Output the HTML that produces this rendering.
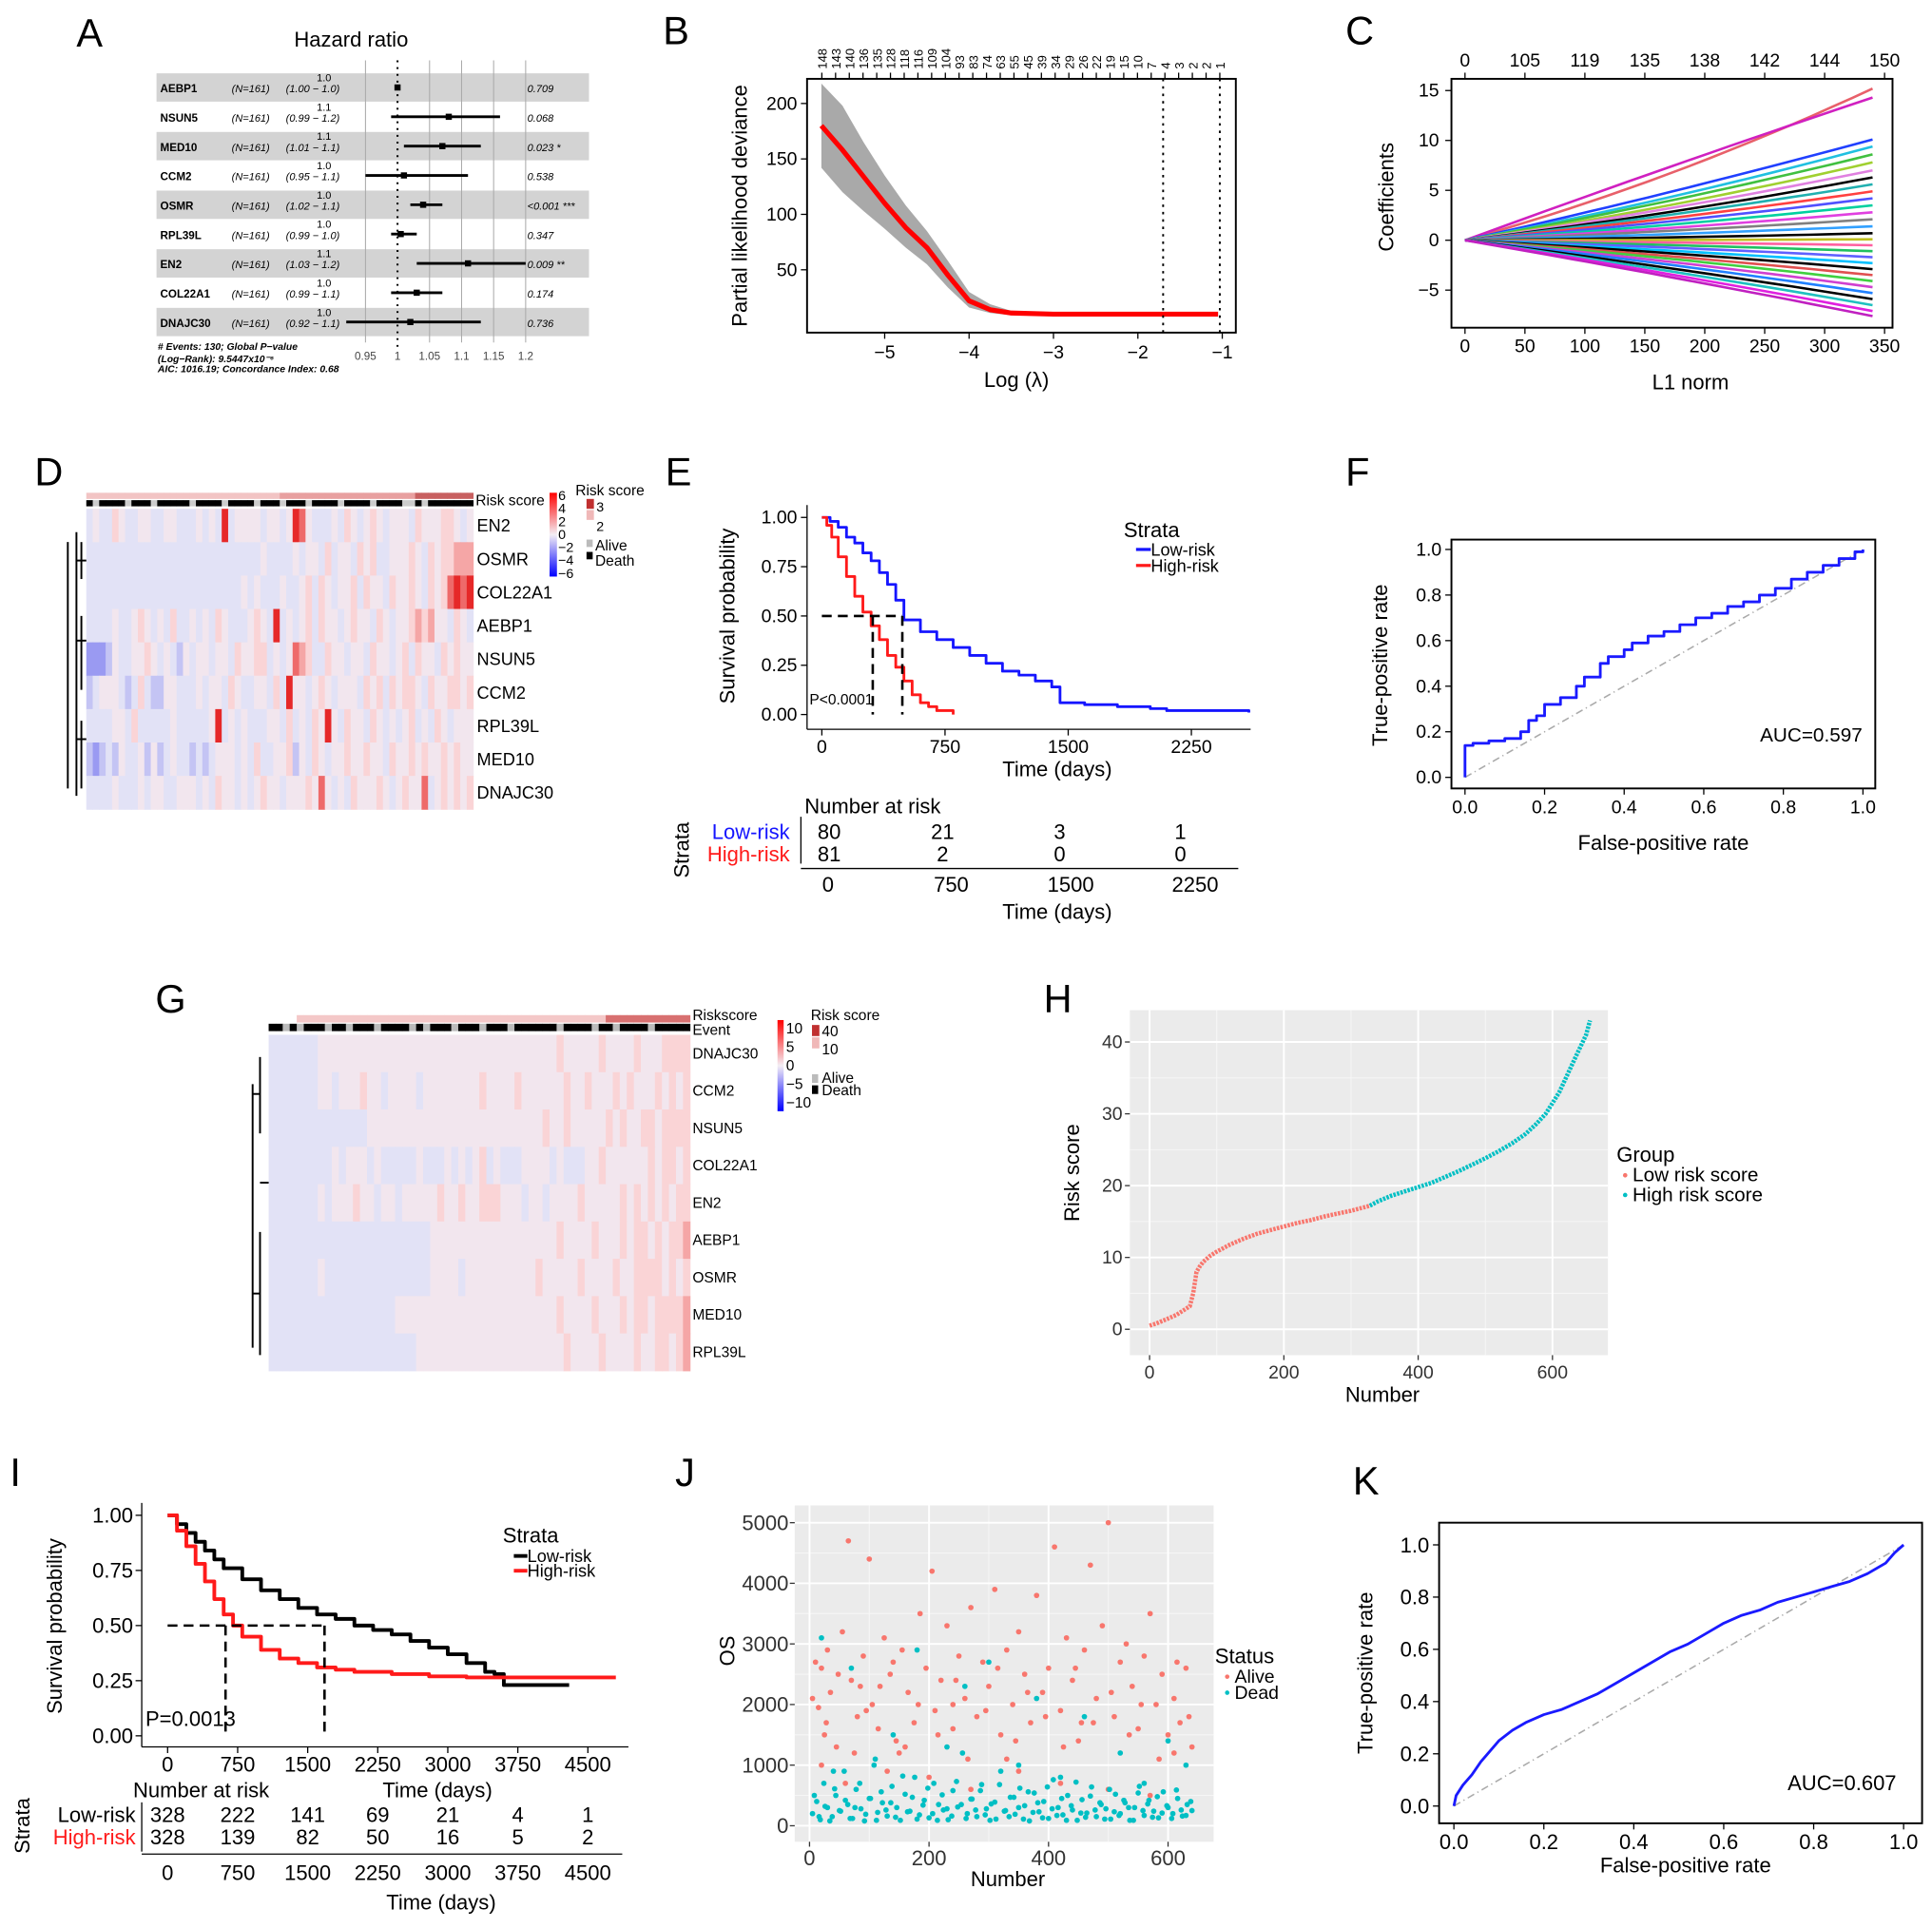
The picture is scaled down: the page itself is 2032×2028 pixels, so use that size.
<!DOCTYPE html>
<html><head><meta charset="utf-8"><style>
html,body{margin:0;padding:0;background:#fff}
svg{display:block;font-family:"Liberation Sans",Arial,sans-serif}
</style></head><body>
<svg id="fig" xmlns="http://www.w3.org/2000/svg" width="2032" height="2028" viewBox="0 0 1568 1565">
<rect x="0" y="0" width="1568" height="1565" fill="#fff"/>
<g font-size="32">
<text x="62" y="38">A</text>
<text x="538" y="36">B</text>
<text x="1092" y="36">C</text>
<text x="28" y="394">D</text>
<text x="540" y="394">E</text>
<text x="1092" y="394">F</text>
<text x="126" y="822">G</text>
<text x="847" y="822">H</text>
<text x="8" y="1206">I</text>
<text x="548" y="1206">J</text>
<text x="1098" y="1213">K</text>
</g>
<g id="layer"></g>
</svg>
<script>
const NS='http://www.w3.org/2000/svg';
const root=document.getElementById('layer');
function mk(tag,a,name,parent){const e=document.createElementNS(NS,tag);for(const k in a)e.setAttribute(k,a[k]);


(parent||root).appendChild(e);return e;}
function tx(x,y,s,name,opt){opt=opt||{};const e=mk('text',Object.assign({x:x,y:y,'font-size':opt.fs||14,'text-anchor':opt.anchor||'start',fill:opt.fill||'#000'},opt.extra||{}),name);e.textContent=s;return e;}
function line(x1,y1,x2,y2,name,st,w,dash){return mk('line',Object.assign({x1,y1,x2,y2,stroke:st||'#000','stroke-width':w||1},dash?{'stroke-dasharray':dash}:{}),name);}
function poly(pts,name,st,w,dash){return mk('polyline',Object.assign({points:pts.map(p=>p[0].toFixed(1)+','+p[1].toFixed(1)).join(' '),fill:'none',stroke:st,'stroke-width':w||1.5,'stroke-linejoin':'round'},dash?{'stroke-dasharray':dash}:{}),name);}
function steps(xs,ys,sx,sy){const p=[];for(let i=0;i<xs.length;i++){if(i>0)p.push([sx(xs[i]),sy(ys[i-1])]);p.push([sx(xs[i]),sy(ys[i])]);}return p;}

/* ===== Panel A: forest plot ===== */
const fGenes=['AEBP1','NSUN5','MED10','CCM2','OSMR','RPL39L','EN2','COL22A1','DNAJC30'];
const fHR=[1.0,1.08,1.07,1.01,1.04,1.005,1.11,1.03,1.02];
const fLo=[1.0,0.99,1.01,0.95,1.02,0.99,1.03,0.99,0.92];
const fHi=[1.0,1.16,1.13,1.11,1.07,1.03,1.2,1.07,1.13];
const fHRlab=['1.0','1.1','1.1','1.0','1.0','1.0','1.1','1.0','1.0'];
const fCI=['(1.00 − 1.0)','(0.99 − 1.2)','(1.01 − 1.1)','(0.95 − 1.1)','(1.02 − 1.1)','(0.99 − 1.0)','(1.03 − 1.2)','(0.99 − 1.1)','(0.92 − 1.1)'];
const fP=['0.709','0.068','0.023 *','0.538','<0.001 ***','0.347','0.009 **','0.174','0.736'];
const fTicks=[0.95,1,1.05,1.1,1.15,1.2];
(function(){
 const ax=v=>322.6+(v-1)*520, ry=i=>71+i*23.8;
 tx(285,38,'Hazard ratio','forest-title',{fs:17,anchor:'middle'});
 fGenes.forEach((g,i)=>{if(i%2==0)mk('rect',{x:127,y:ry(i)-11.5,width:351,height:23,fill:'#d3d3d3'},'forest-row-band');});
 fTicks.forEach(t=>{if(t!==1)line(ax(t),49,ax(t),278,'forest-gridline','#aaa',0.8);
  tx(ax(t),292,String(t),'forest-tick-label',{fs:9,anchor:'middle',fill:'#444'});});
 line(ax(1),49,ax(1),282,'forest-null-line','#000',1.6,'1.5,4');
 fGenes.forEach((g,i)=>{const y=ry(i);
  tx(130,y+4,g,'forest-gene-label',{fs:9,extra:{'font-weight':'bold'}});
  tx(188,y+4,'(N=161)','forest-n-label',{fs:8.5,extra:{'font-style':'italic'}});
  tx(232,y+4,fCI[i],'forest-ci-label',{fs:8.5,extra:{'font-style':'italic'}});
  tx(257,y-5,fHRlab[i],'forest-hr-label',{fs:8.5});
  tx(428,y+4,fP[i],'forest-p-label',{fs:8.5,extra:{'font-style':'italic'}});
  line(ax(fLo[i]),y,ax(fHi[i]),y,'forest-ci-bar','#000',2.2);
  mk('rect',{x:ax(fHR[i])-2.5,y:y-2.5,width:5,height:5,fill:'#000'},'forest-hr-point');});
 tx(128,284,'# Events: 130; Global P−value','forest-footer',{fs:8,extra:{'font-weight':'bold','font-style':'italic'}});
 tx(128,294,'(Log−Rank): 9.5447x10⁻⁶','forest-footer',{fs:8,extra:{'font-weight':'bold','font-style':'italic'}});
 tx(128,302,'AIC: 1016.19; Concordance Index: 0.68','forest-footer',{fs:8,extra:{'font-weight':'bold','font-style':'italic'}});
})();

/* ===== Panel B: lasso CV ===== */
const bLam=[-5.75,-5.5,-5.25,-5.0,-4.75,-4.5,-4.25,-4.0,-3.75,-3.5,-3.0,-2.5,-2.0,-1.5,-1.05];
const bMean=[180,158,134,110,88,70,45,22,14,11,10,10,10,10,10];
const bUp=[218,198,165,135,108,85,58,30,19,13,11,11,11,11,11];
const bLo=[142,120,103,87,70,55,34,16,11,9,9,9,9,9,9];
const bTop=['148','143','140','136','135','128','118','116','109','104','93','83','74','63','55','45','39','34','29','26','22','19','15','10','7','4','3','2','2','1'];
const bXt=[-5,-4,-3,-2,-1], bYt=[50,100,150,200];
(function(){
 const sx=v=>718+(v+5)*68.5, sy=v=>264-v*0.9;
 const band=bLam.map((l,i)=>[sx(l),sy(bUp[i])]).concat(bLam.slice().reverse().map((l,j)=>[sx(l),sy(bLo[bLam.length-1-j])]));
 mk('polygon',{points:band.map(p=>p.join(',')).join(' '),fill:'#a9a9a9'},'deviance-error-band');
 poly(bLam.map((l,i)=>[sx(l),sy(bMean[i])]),'deviance-curve','#f00',4);
 line(944,64,944,270,'lambda-min-line','#000',1.5,'2,4');line(990,64,990,270,'lambda-1se-line','#000',1.5,'2,4');
 mk('rect',{x:655,y:64,width:348,height:206,fill:'none',stroke:'#000','stroke-width':1.5},'plot-frame-b');
 bXt.forEach(t=>{line(sx(t),270,sx(t),275,'x-tick');tx(sx(t),291,'−'+Math.abs(t),'x-tick-label',{fs:15,anchor:'middle'});});
 bYt.forEach(t=>{line(650,sy(t),655,sy(t),'y-tick');tx(647,sy(t)+5,String(t),'y-tick-label',{fs:15,anchor:'end'});});
 bTop.forEach((t,i)=>{const x=667+i*(323/(bTop.length-1));line(x,59,x,64,'top-tick');
  tx(x+4,56,t,'top-tick-label',{fs:10,extra:{transform:`rotate(-90 ${x+4} 56)`}});});
 tx(825,314,'Log (λ)','x-axis-title-b',{fs:17,anchor:'middle'});
 tx(606,167,'Partial likelihood deviance','y-axis-title-b',{fs:17,anchor:'middle',extra:{transform:'rotate(-90 606 167)'}});
})();

/* ===== Panel C: coefficient paths ===== */
const cEnd=[15.2,14.3,10.1,9.4,8.6,7.8,7.0,6.3,5.6,4.9,4.2,3.5,2.8,2.1,1.4,0.7,0.1,-0.5,-1.1,-1.7,-2.3,-2.9,-3.5,-4.1,-4.7,-5.3,-5.9,-6.5,-7.1,-7.6];
const cMid=[5.5,7.5,4.5,3.8,3.5,3.0,2.8,2.4,2.2,1.9,1.6,1.3,1.0,0.8,0.5,0.2,0.0,-0.2,-0.4,-0.6,-0.9,-1.1,-1.4,-1.6,-1.9,-2.2,-2.6,-2.9,-3.2,-3.5];
const cColors=['#e8606a','#d020c0','#2040ff','#20c0e0','#40c040','#a0d030','#e080e0','#000','#20b0b0','#ff4040','#5050ff','#00d0a0','#e040e0','#808080','#30a0ff','#000','#c0c020','#ff60a0','#20c060','#6060ff','#00c0ff','#000','#e05050','#40d040','#d040d0','#2080ff','#000','#20c0c0','#e020e0','#c020c0'];
const cXt=[0,50,100,150,200,250,300,350], cYt=[15,10,5,0,-5];
const cTop=['0','105','119','135','138','142','144','150'];
(function(){
 const sx=v=>1189+v*0.973, sy=v=>195-v*8.1;
 cEnd.forEach((e,i)=>{const m=cMid[i];const p=[];
  for(let k=0;k<=20;k++){const t=k/20;const v=2*(1-t)*t*m*0.9+t*t*e+2*(1-t)*t*(e/2)*0.1;p.push([sx(t*340),sy(v)]);}
  poly(p,'coefficient-path',cColors[i],2);});
 mk('rect',{x:1178,y:64,width:358,height:202,fill:'none',stroke:'#000','stroke-width':1.5},'plot-frame-c');
 cXt.forEach((t,i)=>{line(sx(t),266,sx(t),271,'x-tick');tx(sx(t),286,String(t),'x-tick-label',{fs:15,anchor:'middle'});
  line(sx(t),59,sx(t),64,'top-tick');tx(sx(t),54,cTop[i],'top-tick-label',{fs:15,anchor:'middle'});});
 cYt.forEach(t=>{line(1173,sy(t),1178,sy(t),'y-tick');tx(1168,sy(t)+5,t<0?'−'+(-t):String(t),'y-tick-label',{fs:15,anchor:'end'});});
 tx(1372,316,'L1 norm','x-axis-title-c',{fs:17,anchor:'middle'});
 tx(1131,160,'Coefficients','y-axis-title-c',{fs:17,anchor:'middle',extra:{transform:'rotate(-90 1131 160)'}});
})();

/* ===== heatmap palette ===== */
const hmPal=['#5a5aee','#9a9af2','#c4c4f4','#e2e2f6','#f2e6ee','#fad4d6','#f5a6a6','#ee6a6a','#e62828'];

/* ===== Panel D heatmap ===== */
const dGenes=['EN2','OSMR','COL22A1','AEBP1','NSUN5','CCM2','RPL39L','MED10','DNAJC30'];
const dRows=[
'343354334433443334343834444344348743334354345434443544455434',
'333333333333333333333333333433334344353443545334445435455666',
'333333333333333333333333434333433453543445354435445435457878',
'333343345434353343435433345438343453544345443543445656443543',
'111243344543432434434435445534347653354434435443453544354544',
'234443235322443334344354334435384434543444354535455435445545',
'333344353333343333348343433344353435484354435434345343543444',
'212324334242343323234443435334452435434454454435445454454544',
'333343334344334443435443434544344454743435444543454473454545'];
const dEvent='101111011101111101111011110111011101111011110111100101111111';
(function(){
 const x0=70,x1=384,y0=413,rh=27.1,n=dRows[0].length,cw=(x1-x0)/n;
 for(let c=0;c<n;c++){
  mk('rect',{x:x0+c*cw,y:400,width:cw+0.3,height:5,fill:c<n/2?'#f2c4c4':(c<n*0.85?'#e8a0a0':'#c86060')},'risk-score-annotation');
  mk('rect',{x:x0+c*cw,y:406,width:cw+0.3,height:5,fill:dEvent[c]=='1'?'#000':'#ccc'},'event-annotation');}
 dRows.forEach((r,ri)=>{for(let c=0;c<n;c++)mk('rect',{x:x0+c*cw,y:y0+ri*rh,width:cw+0.4,height:rh+0.4,fill:hmPal[+r[c]]},'heatmap-d-cell');
  tx(387,y0+ri*rh+rh/2+5,dGenes[ri],'heatmap-d-gene-label',{fs:14});});
 tx(386,410,'Risk score','risk-score-annotation-label',{fs:12});
 const den=[[62,432,62,646],[55,440,55,640],[66,440,66,470],[62,455,70,455],[62,520,70,520],[66,500,66,560],[62,600,70,600],[66,585,66,640]];
 den.forEach(d=>line(d[0],d[1],d[2],d[3],'dendrogram-d','#000',1.5));
 const lg=mk('linearGradient',{id:'gD',x1:0,y1:0,x2:0,y2:1},'legend-gradient');
 [['0','#ff0000'],['0.5','#f4eef4'],['1','#0000ff']].forEach(s=>mk('stop',{offset:s[0],'stop-color':s[1]},'gradient-stop',lg));
 mk('rect',{x:446,y:400,width:6,height:68,fill:'url(#gD)'},'heatmap-d-color-legend');
 ['6','4','2','0','−2','−4','−6'].forEach((t,i)=>tx(453,406+i*10.5,t,'color-legend-label',{fs:11}));
 tx(467,402,'Risk score','risk-legend-title',{fs:12});
 mk('rect',{x:476,y:405,width:6,height:8,fill:'#c03030'},'risk-legend-swatch');mk('rect',{x:476,y:414,width:6,height:8,fill:'#f0b8b8'},'risk-legend-swatch');
 tx(484,415,'3','risk-legend-label',{fs:11});tx(484,431,'2','risk-legend-label',{fs:11});
 mk('rect',{x:476,y:438,width:5,height:6,fill:'#bbb'},'alive-swatch');mk('rect',{x:476,y:448,width:5,height:6,fill:'#000'},'death-swatch');
 tx(483,447,'Alive','alive-label',{fs:12});tx(483,459,'Death','death-label',{fs:12});
})();

/* ===== Panel E KM ===== */
const eLowT=[0,50,100,150,200,250,300,350,400,450,500,600,700,800,900,1000,1100,1200,1300,1400,1450,1600,1800,2000,2100,2600];
const eLowS=[1,0.98,0.95,0.9,0.87,0.82,0.78,0.72,0.66,0.58,0.48,0.42,0.38,0.34,0.3,0.26,0.22,0.2,0.17,0.14,0.06,0.05,0.04,0.03,0.02,0.01];
const eHighT=[0,30,60,100,150,200,250,300,350,400,450,500,550,600,650,700,800];
const eHighS=[1,0.96,0.9,0.8,0.7,0.6,0.52,0.45,0.38,0.3,0.24,0.17,0.1,0.06,0.04,0.02,0.0];
const eXt=[0,750,1500,2250], eYt=[1,0.75,0.5,0.25,0];
const eRiskLow=['80','21','3','1'], eRiskHigh=['81','2','0','0'];
(function(){
 const sx=v=>667+v*0.1333, sy=v=>580-v*160;
 poly(steps(eLowT,eLowS,sx,sy),'km-low-risk-curve','#1515ff',2.2);
 poly(steps(eHighT,eHighS,sx,sy),'km-high-risk-curve','#ff1a1a',2.2);
 line(sx(0),sy(0.5),sx(490),sy(0.5),'median-line-h','#000',2,'8,5');
 line(sx(310),sy(0.5),sx(310),sy(0),'median-line-high','#000',2,'8,5');
 line(sx(490),sy(0.5),sx(490),sy(0),'median-line-low','#000',2,'8,5');
 line(655,410,655,592,'y-axis-e');line(655,592,1015,592,'x-axis-e');
 eXt.forEach(t=>{line(sx(t),592,sx(t),597,'x-tick');tx(sx(t),611,String(t),'x-tick-label',{fs:15,anchor:'middle'});});
 eYt.forEach(t=>{line(650,sy(t),655,sy(t),'y-tick');tx(647,sy(t)+5,t.toFixed(2),'y-tick-label',{fs:15,anchor:'end'});});
 tx(657,572,'P<0.0001','p-value-e',{fs:12});
 tx(858,630,'Time (days)','x-axis-title-e',{fs:17,anchor:'middle'});
 tx(596,500,'Survival probability','y-axis-title-e',{fs:17,anchor:'middle',extra:{transform:'rotate(-90 596 500)'}});
 tx(912,436,'Strata','legend-title-e',{fs:17});
 line(922,446,934,446,'legend-low-swatch','#1515ff',2.5);tx(934,451,'Low-risk','legend-low-label',{fs:14});
 line(922,459,934,459,'legend-high-swatch','#ff1a1a',2.5);tx(934,464,'High-risk','legend-high-label',{fs:14});
 tx(653,660,'Number at risk','risk-table-title-e',{fs:17});
 tx(641,681,'Low-risk','risk-row-low',{fs:17,anchor:'end',fill:'#1515ff'});
 tx(641,699,'High-risk','risk-row-high',{fs:17,anchor:'end',fill:'#ff1a1a'});
 line(650,663,650,701,'risk-table-axis');
 const rx=[673,765,860,958];
 rx.forEach((x,i)=>{tx(x,681,eRiskLow[i],'risk-count',{fs:17,anchor:'middle'});tx(x,699,eRiskHigh[i],'risk-count',{fs:17,anchor:'middle'});});
 line(650,705,1005,705,'risk-x-axis');
 eXt.forEach((t,i)=>tx([672,772,869,970][i],724,String(t),'risk-x-tick-label',{fs:17,anchor:'middle'}));
 tx(858,746,'Time (days)','risk-x-title',{fs:17,anchor:'middle'});
 tx(559,690,'Strata','risk-strata-label',{fs:17,anchor:'middle',extra:{transform:'rotate(-90 559 690)'}});
})();

/* ===== Panel F ROC ===== */
const fFpr=[0,0,0.02,0.06,0.1,0.14,0.16,0.18,0.2,0.24,0.28,0.3,0.34,0.36,0.4,0.42,0.46,0.5,0.54,0.58,0.62,0.66,0.7,0.74,0.78,0.82,0.86,0.9,0.94,0.98,1.0];
const fTpr=[0,0.14,0.15,0.16,0.17,0.2,0.25,0.27,0.32,0.35,0.4,0.44,0.5,0.53,0.56,0.59,0.62,0.64,0.67,0.7,0.72,0.75,0.77,0.8,0.83,0.87,0.9,0.93,0.96,0.99,1.0];
const rocTicks=[0,0.2,0.4,0.6,0.8,1];
(function(){
 const sx=v=>1189+v*323, sy=v=>631-v*185;
 line(sx(0),sy(0),sx(1),sy(1),'roc-diagonal','#aaa',1.2,'6,3,1,3');
 const p=[];for(let i=0;i<fFpr.length;i++){if(i>0)p.push([sx(fFpr[i]),sy(fTpr[i-1])]);p.push([sx(fFpr[i]),sy(fTpr[i])]);}
 poly(p,'roc-curve-f','#1a1aff',2.2);
 mk('rect',{x:1178,y:438,width:344,height:202,fill:'none',stroke:'#000','stroke-width':1.5},'plot-frame-f');
 rocTicks.forEach(t=>{line(sx(t),640,sx(t),645,'x-tick');tx(sx(t),660,t.toFixed(1),'x-tick-label',{fs:15,anchor:'middle'});
  line(1173,sy(t),1178,sy(t),'y-tick');tx(1170,sy(t)+5,t.toFixed(1),'y-tick-label',{fs:15,anchor:'end'});});
 tx(1470,602,'AUC=0.597','auc-label-f',{fs:16,anchor:'middle'});
 tx(1350,690,'False-positive rate','x-axis-title-f',{fs:17,anchor:'middle'});
 tx(1126,540,'True-positive rate','y-axis-title-f',{fs:17,anchor:'middle',extra:{transform:'rotate(-90 1126 540)'}});
})();

/* ===== Panel G heatmap ===== */
const gGenes=['DNAJC30','CCM2','NSUN5','COL22A1','EN2','AEBP1','OSMR','MED10','RPL39L'];
const gRows=[
'333333344444444444444444444444444444444445444445444454445555',
'333333344344454434444344444444544445444444544544454544454545',
'333333333333334444444444444444444444444544544444545445545555',
'333333333434443433333433343434534333444434333445444444545545',
'333333343444544344344444544544555444344344445444445454545455',
'333333333333333333333334444444444444444445444454445455454556',
'333333343333333333333334444344444444445444445444454455554545',
'333333333333333333444444444444444444444445444454445455455556',
'333333333333333333333444444444444444444444544445444454455456'];
const gEvent='110101110110111011110101110111011101111110111101101111011111';
(function(){
 const x0=218,x1=560,y0=840,rh=30.3,n=gRows[0].length,cw=(x1-x0)/n;
 for(let c=0;c<n;c++){
  mk('rect',{x:x0+c*cw,y:824,width:cw+0.3,height:6,fill:c<4?'#fff':(c<n*0.8?'#f4c8c8':'#d87070')},'risk-score-annotation-g');
  mk('rect',{x:x0+c*cw,y:831,width:cw+0.3,height:6,fill:gEvent[c]=='1'?'#000':'#bbb'},'event-annotation-g');}
 gRows.forEach((r,ri)=>{for(let c=0;c<n;c++)mk('rect',{x:x0+c*cw,y:y0+ri*rh,width:cw+0.4,height:rh+0.4,fill:hmPal[+r[c]]},'heatmap-g-cell');
  tx(562,y0+ri*rh+rh/2+4,gGenes[ri],'heatmap-g-gene-label',{fs:12});});
 tx(562,828,'Riskscore','riskscore-annotation-label',{fs:12});tx(562,840,'Event','event-annotation-label',{fs:12});
 const den=[[211,858,211,920],[205,888,211,888],[205,880,205,1094],[211,960,218,960],[211,1000,211,1100],[205,1050,211,1050]];
 den.forEach(d=>line(d[0],d[1],d[2],d[3],'dendrogram-g','#000',1.5));
 const lg=mk('linearGradient',{id:'gG',x1:0,y1:0,x2:0,y2:1},'legend-gradient');
 [['0','#ff0000'],['0.5','#f4eef4'],['1','#0000ff']].forEach(s=>mk('stop',{offset:s[0],'stop-color':s[1]},'gradient-stop',lg));
 mk('rect',{x:631,y:828,width:5,height:74,fill:'url(#gG)'},'heatmap-g-color-legend');
 ['10','5','0','−5','−10'].forEach((t,i)=>tx(638,839+i*15,t,'color-legend-label-g',{fs:12}));
 tx(658,828,'Risk score','risk-legend-title-g',{fs:12});
 mk('rect',{x:659,y:832,width:6,height:9,fill:'#c03030'},'risk-legend-swatch-g');mk('rect',{x:659,y:842,width:6,height:9,fill:'#f0b8b8'},'risk-legend-swatch-g');
 tx(667,841,'40','risk-legend-label-g',{fs:12});tx(667,856,'10','risk-legend-label-g',{fs:12});
 mk('rect',{x:659,y:872,width:5,height:7,fill:'#bbb'},'alive-swatch-g');mk('rect',{x:659,y:881,width:5,height:7,fill:'#000'},'death-swatch-g');
 tx(667,879,'Alive','alive-label-g',{fs:12});tx(667,889,'Death','death-label-g',{fs:12});
})();

/* ===== Panel H risk score ===== */
const hIdx=[0,10,20,30,40,50,60,65,70,75,80,90,100,120,140,160,180,200,220,240,260,280,300,320,328,340,360,380,400,420,440,460,480,500,520,540,560,575,590,600,610,620,630,640,650,656];
const hVal=[0.5,0.8,1.2,1.6,2.0,2.6,3.2,5,8,8.8,9.4,10.2,10.8,11.8,12.6,13.3,13.8,14.3,14.8,15.2,15.7,16.1,16.5,17.0,17.2,17.8,18.6,19.2,19.8,20.4,21.2,22,22.9,23.8,24.8,25.9,27.2,28.5,30,31.5,33,35,37,39,41,43];
const hXt=[0,200,400,600], hYt=[0,10,20,30,40];
(function(){
 const sx=v=>933+v*0.545, sy=v=>1079-v*5.83;
 mk('rect',{x:917,y:820,width:388,height:280,fill:'#ebebeb'},'plot-bg-h');
 [100,300,500].forEach(t=>line(sx(t),820,sx(t),1100,'minor-grid-h','#f6f6f6',0.8));
 [5,15,25,35].forEach(t=>line(917,sy(t),1305,sy(t),'minor-grid-h','#f6f6f6',0.8));
 hXt.forEach(t=>line(sx(t),820,sx(t),1100,'grid-h','#fff',1.5));
 hYt.forEach(t=>line(917,sy(t),1305,sy(t),'grid-h','#fff',1.5));
 const lowP=[],hiP=[];hIdx.forEach((x,i)=>(x<=328?lowP:hiP).push([sx(x),sy(hVal[i])]));
 hiP.unshift(lowP[lowP.length-1]);
 poly(lowP,'low-risk-points','#f8766d',3.5,'2,1');poly(hiP,'high-risk-points','#00bfc4',3.5,'2,1');
 hXt.forEach(t=>{line(sx(t),1100,sx(t),1104,'x-tick','#333');tx(sx(t),1119,String(t),'x-tick-label',{fs:15,anchor:'middle',fill:'#333'});});
 hYt.forEach(t=>{line(913,sy(t),917,sy(t),'y-tick','#333');tx(911,sy(t)+5,String(t),'y-tick-label',{fs:15,anchor:'end',fill:'#333'});});
 tx(1122,1138,'Number','x-axis-title-h',{fs:17,anchor:'middle'});
 tx(876,952,'Risk score','y-axis-title-h',{fs:17,anchor:'middle',extra:{transform:'rotate(-90 876 952)'}});
 tx(1312,943,'Group','legend-title-h',{fs:17});
 mk('circle',{cx:1319,cy:954,r:1.8,fill:'#f8766d'},'legend-low-dot');tx(1325,959,'Low risk score','legend-low-label-h',{fs:16});
 mk('circle',{cx:1319,cy:970,r:1.8,fill:'#00bfc4'},'legend-high-dot');tx(1325,975,'High risk score','legend-high-label-h',{fs:16});
})();

/* ===== Panel I KM ===== */
const iLowT=[0,100,200,300,400,500,600,800,1000,1200,1400,1600,1800,2000,2200,2400,2600,2800,3000,3200,3400,3500,3600,4300];
const iLowS=[1,0.96,0.92,0.88,0.84,0.8,0.76,0.71,0.66,0.62,0.58,0.55,0.53,0.5,0.48,0.46,0.43,0.4,0.37,0.33,0.29,0.28,0.23,0.23];
const iHighT=[0,100,200,300,400,500,600,700,800,1000,1200,1400,1600,1800,2000,2400,2800,3200,4800];
const iHighS=[1,0.93,0.86,0.78,0.7,0.62,0.55,0.5,0.45,0.39,0.35,0.33,0.31,0.3,0.29,0.28,0.27,0.265,0.265];
const iXt=[0,750,1500,2250,3000,3750,4500], iYt=[1,0.75,0.5,0.25,0];
const iRiskLow=['328','222','141','69','21','4','1'], iRiskHigh=['328','139','82','50','16','5','2'];
(function(){
 const sx=v=>136+v*0.0758, sy=v=>1409-v*179;
 poly(steps(iLowT,iLowS,sx,sy),'km-low-risk-curve-i','#000',3);
 poly(steps(iHighT,iHighS,sx,sy),'km-high-risk-curve-i','#ff1a1a',3);
 line(sx(0),sy(0.5),sx(1680),sy(0.5),'median-line-h-i','#000',2,'8,5');
 line(sx(620),sy(0.5),sx(620),sy(0),'median-line-high-i','#000',2,'8,5');
 line(sx(1680),sy(0.5),sx(1680),sy(0),'median-line-low-i','#000',2,'8,5');
 line(115,1220,115,1418,'y-axis-i');line(115,1418,510,1418,'x-axis-i');
 iXt.forEach(t=>{line(sx(t),1418,sx(t),1423,'x-tick');tx(sx(t),1438,String(t),'x-tick-label',{fs:17,anchor:'middle'});});
 iYt.forEach(t=>{line(110,sy(t),115,sy(t),'y-tick');tx(108,sy(t)+6,t.toFixed(2),'y-tick-label',{fs:17,anchor:'end'});});
 tx(118,1401,'P=0.0013','p-value-i',{fs:17});
 tx(355,1459,'Time (days)','x-axis-title-i',{fs:17,anchor:'middle'});
 tx(50,1320,'Survival probability','y-axis-title-i',{fs:17,anchor:'middle',extra:{transform:'rotate(-90 50 1320)'}});
 tx(408,1252,'Strata','legend-title-i',{fs:17});
 line(417,1263,428,1263,'legend-low-swatch-i','#000',3);tx(428,1268,'Low-risk','legend-low-label-i',{fs:14});
 line(417,1275,428,1275,'legend-high-swatch-i','#ff1a1a',3);tx(428,1280,'High-risk','legend-high-label-i',{fs:14});
 tx(108,1459,'Number at risk','risk-table-title-i',{fs:17});
 tx(110,1479,'Low-risk','risk-row-low-i',{fs:17,anchor:'end'});
 tx(110,1497,'High-risk','risk-row-high-i',{fs:17,anchor:'end',fill:'#ff1a1a'});
 line(115,1463,115,1503,'risk-table-axis-i');
 iXt.forEach((t,i)=>{tx(sx(t),1479,iRiskLow[i],'risk-count-i',{fs:17,anchor:'middle'});tx(sx(t),1497,iRiskHigh[i],'risk-count-i',{fs:17,anchor:'middle'});});
 line(115,1505,505,1505,'risk-x-axis-i');
 iXt.forEach(t=>tx(sx(t),1526,String(t),'risk-x-tick-label-i',{fs:17,anchor:'middle'}));
 tx(358,1550,'Time (days)','risk-x-title-i',{fs:17,anchor:'middle'});
 tx(24,1482,'Strata','risk-strata-label-i',{fs:17,anchor:'middle',extra:{transform:'rotate(-90 24 1482)'}});
})();

/* ===== Panel J scatter ===== */
const jAliveX=[10,15,20,25,30,35,45,55,65,70,80,90,100,105,115,125,135,145,155,165,175,185,195,205,210,220,230,240,250,260,270,280,290,300,310,320,330,340,350,360,370,380,390,400,410,420,430,440,450,460,470,480,490,500,510,520,530,540,550,560,570,580,590,600,610,620,630,640,20,60,130,200,270,350,420,500,570,150,330,85,240,455,610,
5,28,48,75,95,118,140,160,182,215,245,265,295,315,345,365,395,425,445,475,505,535,555,585,615,635];
const jAliveY=[2700,1950,2600,1500,2900,2200,1300,3200,4700,2400,1800,2800,4400,2000,1600,3100,2500,1400,2900,2200,1700,3500,2600,4200,1900,2400,3300,1600,2800,2100,3600,1800,2700,2300,3900,1500,2900,2000,3200,2500,1700,3800,2200,2600,4600,1900,3100,2400,1400,2900,4300,2100,3300,5000,1800,2700,3000,2300,1600,2800,3500,2000,2500,1500,2100,1700,2600,1300,1000,700,900,800,600,900,700,600,500,1200,1100,2300,2000,1700,1200,
2100,1700,2500,1200,1900,2300,2700,1300,2000,1500,2400,1100,1900,2600,1400,2200,1800,1300,2600,1700,2200,1500,2000,1100,2700,1800];
const jDeadX=[5,12,18,24,30,38,44,50,58,64,72,78,86,92,100,108,114,122,130,138,146,152,160,168,176,184,192,200,208,216,224,232,240,248,256,264,272,280,288,296,304,312,320,328,336,344,352,360,368,376,384,392,400,408,416,424,432,440,448,456,464,472,480,488,496,504,512,520,528,536,544,552,560,568,576,584,592,600,608,616,624,632,640,20,70,140,180,260,300,380,460,520,600,40,110,230,350,420,560,630,
8,16,26,34,42,52,60,68,76,84,94,102,112,120,128,136,144,156,164,172,180,190,198,206,214,222,230,238,246,254,262,270,278,286,294,302,310,318,326,334,342,350,358,366,374,382,390,398,406,414,422,430,438,446,454,462,470,478,486,494,502,510,518,526,534,542,550,558,566,574,582,590,598,606,614,622,630,638];
const jDeadY=[200,400,100,700,300,150,500,250,900,350,120,600,280,80,450,1000,220,380,160,650,300,90,520,240,800,180,420,130,700,350,260,100,580,310,1200,200,440,150,680,280,360,110,900,250,470,190,620,330,80,540,230,400,120,760,300,180,500,260,90,430,210,640,150,350,280,110,520,200,380,90,300,650,170,420,240,130,560,300,200,450,160,350,250,3100,2600,1500,2900,2300,2700,2100,1800,1200,1400,900,1100,1300,1000,800,700,1000,
500,150,320,80,610,240,420,120,300,700,190,450,90,560,260,380,140,820,230,470,110,340,620,200,90,510,280,160,730,350,120,440,260,580,180,90,390,680,240,150,470,300,110,560,220,380,130,640,280,170,450,90,330,720,210,140,490,260,380,110,600,230,170,420,300,90,540,250,360,140,480,210,330,120,590,260,170,400];
const jXt=[0,200,400,600], jYt=[0,1000,2000,3000,4000,5000];
(function(){
 const sx=v=>657+v*0.485, sy=v=>1482-v*0.0492;
 mk('rect',{x:645,y:1222,width:340,height:273,fill:'#ebebeb'},'plot-bg-j');
 [100,300,500].forEach(t=>line(sx(t),1222,sx(t),1495,'minor-grid-j','#f6f6f6',0.8));
 [500,1500,2500,3500,4500].forEach(t=>line(645,sy(t),985,sy(t),'minor-grid-j','#f6f6f6',0.8));
 jXt.forEach(t=>line(sx(t),1222,sx(t),1495,'grid-j','#fff',1.5));
 jYt.forEach(t=>line(645,sy(t),985,sy(t),'grid-j','#fff',1.5));
 jAliveX.forEach((x,i)=>mk('circle',{cx:sx(x),cy:sy(jAliveY[i]),r:2.2,fill:'#f8766d'},'alive-point'));
 jDeadX.forEach((x,i)=>mk('circle',{cx:sx(x),cy:sy(jDeadY[i]),r:2.2,fill:'#00bfc4'},'dead-point'));
 jXt.forEach(t=>{line(sx(t),1495,sx(t),1499,'x-tick','#333');tx(sx(t),1514,String(t),'x-tick-label',{fs:17,anchor:'middle',fill:'#333'});});
 jYt.forEach(t=>{line(641,sy(t),645,sy(t),'y-tick','#333');tx(640,sy(t)+6,String(t),'y-tick-label',{fs:17,anchor:'end',fill:'#333'});});
 tx(818,1531,'Number','x-axis-title-j',{fs:17,anchor:'middle'});
 tx(596,1340,'OS','y-axis-title-j',{fs:17,anchor:'middle',extra:{transform:'rotate(-90 596 1340)'}});
 tx(986,1350,'Status','legend-title-j',{fs:17});
 mk('circle',{cx:996,cy:1361,r:1.8,fill:'#f8766d'},'legend-alive-dot');tx(1002,1366,'Alive','legend-alive-label',{fs:15});
 mk('circle',{cx:996,cy:1374,r:1.8,fill:'#00bfc4'},'legend-dead-dot');tx(1002,1379,'Dead','legend-dead-label',{fs:15});
})();

/* ===== Panel K ROC ===== */
const kFpr=[0,0.005,0.02,0.04,0.06,0.08,0.1,0.13,0.16,0.2,0.24,0.28,0.32,0.36,0.4,0.44,0.48,0.52,0.56,0.6,0.64,0.68,0.72,0.76,0.8,0.84,0.88,0.92,0.96,0.98,1.0];
const kTpr=[0,0.04,0.08,0.12,0.17,0.21,0.25,0.29,0.32,0.35,0.37,0.4,0.43,0.47,0.51,0.55,0.59,0.62,0.66,0.7,0.73,0.75,0.78,0.8,0.82,0.84,0.86,0.89,0.93,0.97,1.0];
(function(){
 const sx=v=>1180+v*365, sy=v=>1466-v*212;
 line(sx(0),sy(0),sx(1),sy(1),'roc-diagonal-k','#aaa',1.2,'6,3,1,3');
 poly(kFpr.map((f,i)=>[sx(f),sy(kTpr[i])]),'roc-curve-k','#1a1aff',2.2);
 mk('rect',{x:1168,y:1236,width:392,height:244,fill:'none',stroke:'#000','stroke-width':1.5},'plot-frame-k');
 rocTicks.forEach(t=>{line(sx(t),1480,sx(t),1485,'x-tick');tx(sx(t),1501,t.toFixed(1),'x-tick-label',{fs:17,anchor:'middle'});
  line(1163,sy(t),1168,sy(t),'y-tick');tx(1160,sy(t)+6,t.toFixed(1),'y-tick-label',{fs:17,anchor:'end'});});
 tx(1495,1453,'AUC=0.607','auc-label-k',{fs:17,anchor:'middle'});
 tx(1368,1520,'False-positive rate','x-axis-title-k',{fs:17,anchor:'middle'});
 tx(1114,1358,'True-positive rate','y-axis-title-k',{fs:17,anchor:'middle',extra:{transform:'rotate(-90 1114 1358)'}});
})();
</script>
</body></html>
